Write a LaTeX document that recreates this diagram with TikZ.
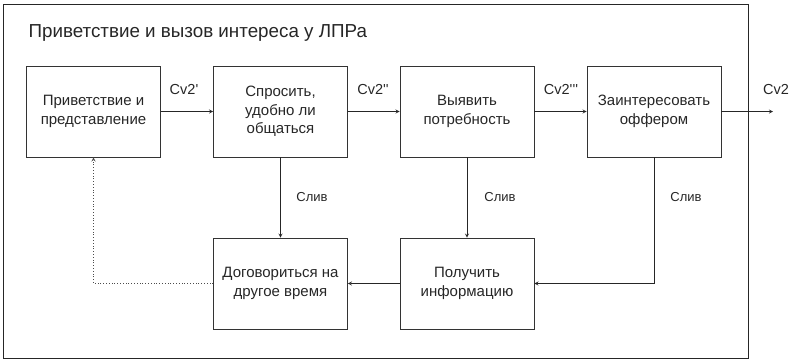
\documentclass[tikz,border=0pt]{standalone}
\usepackage{fontspec}
\setmainfont{Liberation Sans}
\usetikzlibrary{positioning}
\newcommand{\tick}{\textquotesingle}

\begin{document}
\begin{tikzpicture}[x=1pt, y=-1pt, >=stealth,
    stagebox/.style={draw=black!80, line width=0.8pt, minimum width=134pt, minimum height=91pt,
      align=center, font=\fontsize{15}{18.5}\selectfont, text=black!85},
    flow/.style={->, line width=0.8pt, black!85},
    cvlabel/.style={font=\fontsize{14.5}{17}\selectfont, text=black!85},
    drop/.style={font=\fontsize{13}{16}\selectfont, text=black!85}]
  \useasboundingbox (0,0) rectangle (790,360);
  % outer frame and heading
  \draw[line width=0.8pt, black!85] (3,4) rectangle (748,358);
  \node[anchor=west, font=\fontsize{18.8}{22}\selectfont, text=black!85] (title) at (25,33)
    {Приветствие и вызов интереса у ЛПРа};

  % upper row
  \node[stagebox] (greet) at (93.5,111.5) {Приветствие и\\представление};
  \node[stagebox] (ask) at (280.5,111.5) {Спросить,\\удобно ли\\общаться};
  \node[stagebox] (needs) at (467,111.5) {Выявить\\потребность};
  \node[stagebox] (offer) at (654,111.5) {Заинтересовать\\оффером};

  % lower row
  \node[stagebox] (later) at (280.5,283.5) {Договориться на\\другое время};
  \node[stagebox] (info) at (467,283.5) {Получить\\информацию};

  % conversions
  \coordinate (exit) at (773,111.5);
  \draw[flow] (greet) -- (ask);
  \draw[flow] (ask) -- (needs);
  \draw[flow] (needs) -- (offer);
  \draw[flow] (offer) -- (exit);
  \node[cvlabel] (cv1) at (184,90) {Cv2\tick};
  \node[cvlabel] (cv2) at (373,90) {Cv2\tick\tick};
  \node[cvlabel] (cv3) at (561,90) {Cv2\tick\tick\tick};
  \node[cvlabel] (cv4) at (776,90) {Cv2};

  % drop-offs
  \draw[flow] (ask) -- (later);
  \draw[flow] (needs) -- (info);
  \draw[flow] (offer.south) |- (info.east);
  \draw[flow] (info) -- (later);
  \node[drop] (drop1) at (312,197) {Слив};
  \node[drop] (drop2) at (500,197) {Слив};
  \node[drop] (drop3) at (686,197) {Слив};

  % call back later
  \coordinate (back) at (93.5,283.5);
  \draw[->, dotted, line width=0.8pt, black!70] (later.west) -- (back) -- (greet.south);
\end{tikzpicture}
\end{document}
